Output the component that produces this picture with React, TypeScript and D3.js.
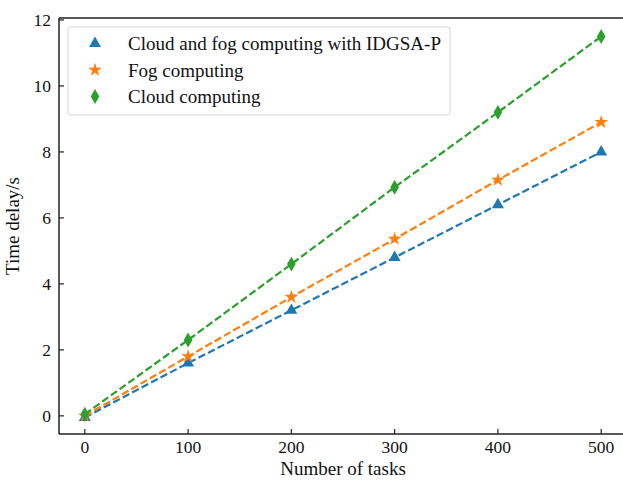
import React from 'react'
import * as d3 from 'd3'

// data
const tasks = [0, 100, 200, 300, 400, 500]
const idgsaDelay = [-0.05, 1.6, 3.2, 4.8, 6.4, 8.0]
const fogDelay = [0, 1.8, 3.6, 5.36, 7.15, 8.9]
const cloudDelay = [0.05, 2.3, 4.6, 6.93, 9.2, 11.5]
const xTicks = [0, 100, 200, 300, 400, 500]
const yTicks = [0, 2, 4, 6, 8, 10, 12]
const seriesNames = ['Cloud and fog computing with IDGSA-P', 'Fog computing', 'Cloud computing']

const W = 623
const H = 482
const margin = { top: 18, right: -4, bottom: 48, left: 59 }
const font = '"Liberation Serif", "Times New Roman", serif'

function markerPath(kind: string) {
  if (kind === 'triangle') return d3.symbol(d3.symbolTriangle, 62)() as string
  if (kind === 'star') return d3.symbol(d3.symbolStar, 58)() as string
  return d3.symbol(d3.symbolDiamond, 64)() as string
}

export default function App() {
  const innerW = W - margin.left - margin.right
  const innerH = H - margin.top - margin.bottom

  const x = d3.scaleLinear().domain([-25, 525]).range([0, innerW])
  const y = d3.scaleLinear().domain([-0.55, 12.06]).range([innerH, 0])

  const series = [
    { name: seriesNames[0], values: idgsaDelay, color: '#1f77b4', marker: 'triangle' },
    { name: seriesNames[1], values: fogDelay, color: '#ff7f0e', marker: 'star' },
    { name: seriesNames[2], values: cloudDelay, color: '#2ca02c', marker: 'diamond' },
  ]

  const lineGen = d3.line<number>()
    .x((d, i) => x(tasks[i]))
    .y(d => y(d))

  return (
    <svg width={W} height={H} style={{ position: 'absolute', left: 0, top: 0, background: 'white' }}
      fontFamily={font}>
      <g transform={`translate(${margin.left},${margin.top})`}>
        {series.map(s => (
          <g key={s.name}>
            <path d={lineGen(s.values) as string} fill="none" stroke={s.color}
              strokeWidth={2.2} strokeDasharray="7.5,3.2" />
            {s.values.map((v, i) => (
              <path key={i} d={markerPath(s.marker)}
                transform={`translate(${x(tasks[i])},${y(v)})`} fill={s.color} />
            ))}
          </g>
        ))}

        {/* frame */}
        <line x1={0} x2={0} y1={0} y2={innerH} stroke="#222" strokeWidth={1.5} />
        <line x1={0} x2={innerW} y1={innerH} y2={innerH} stroke="#222" strokeWidth={1.5} />
        <line x1={0} x2={innerW} y1={0} y2={0} stroke="#222" strokeWidth={1.5} />

        {xTicks.map(t => (
          <g key={t} transform={`translate(${x(t)},${innerH})`}>
            <line y1={0} y2={-5} stroke="#222" strokeWidth={1.2} />
            <text y={19} textAnchor="middle" fontSize={17.5} fill="#111">{t}</text>
          </g>
        ))}
        {yTicks.map(t => (
          <g key={t} transform={`translate(0,${y(t)})`}>
            <line x1={0} x2={5} stroke="#222" strokeWidth={1.2} />
            <text x={-8} dy="0.35em" textAnchor="end" fontSize={17.5} fill="#111">{t}</text>
          </g>
        ))}

        <text x={(innerW) / 2} y={innerH + 41} textAnchor="middle" fontSize={19} fill="#111">
          Number of tasks
        </text>
        <text transform={`translate(${-40},${innerH / 2}) rotate(-90)`} textAnchor="middle"
          fontSize={19} fill="#111">
          Time delay/s
        </text>

        {/* legend */}
        <g transform="translate(9,9)">
          <rect x={0} y={0} width={382} height={88} rx={3} fill="white" stroke="#d6d6d6" strokeWidth={1} />
          {series.map((s, i) => (
            <g key={s.name} transform={`translate(0,${16.5 + i * 26.5})`}>
              <path d={markerPath(s.marker)} transform="translate(27,0)" fill={s.color} />
              <text x={60} dy="0.35em" fontSize={19} fill="#111">{s.name}</text>
            </g>
          ))}
        </g>
      </g>
    </svg>
  )
}
